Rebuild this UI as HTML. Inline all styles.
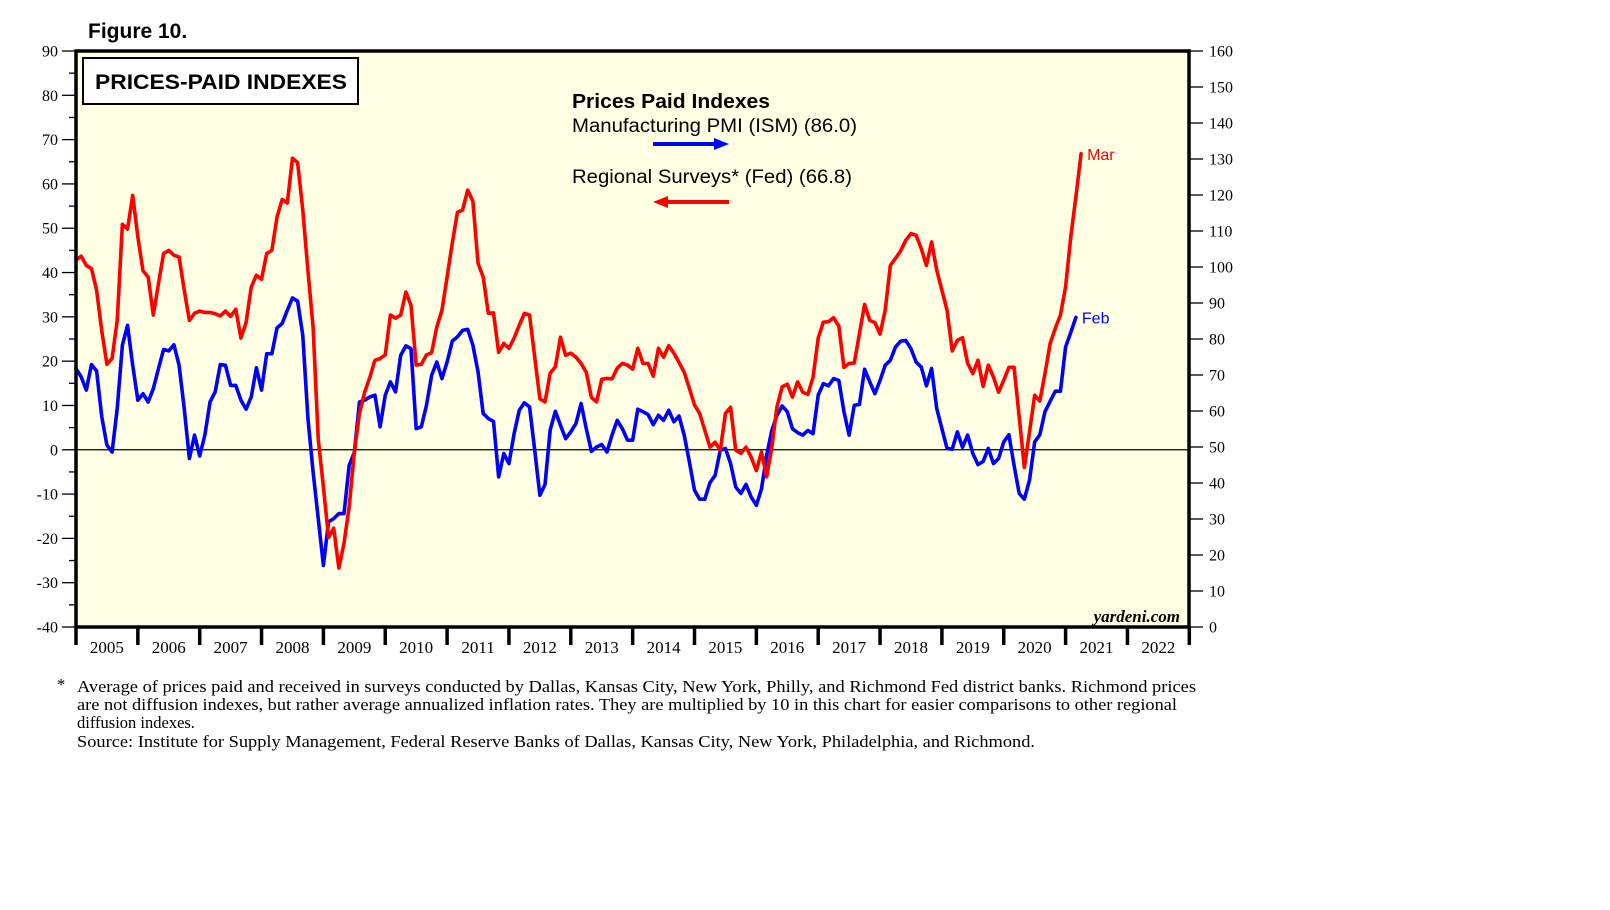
<!DOCTYPE html>
<html>
<head>
<meta charset="utf-8">
<style>
html,body{margin:0;padding:0;background:#fff;}
svg{display:block;}
</style>
</head>
<body>
<svg id="chart" width="1610" height="910" viewBox="0 0 1610 910" xmlns="http://www.w3.org/2000/svg">
  <rect x="0" y="0" width="1610" height="910" fill="#ffffff"/>
  <text x="88" y="38" font-family="Liberation Sans, sans-serif" font-weight="bold" font-size="21" fill="#000">Figure 10.</text>
  <rect x="76" y="51" width="1113" height="576" fill="#FFFFE4"/>
  <g id="axes"></g>
  <g id="series"></g>
  <rect x="76" y="51" width="1113" height="576" fill="none" stroke="#000" stroke-width="3.5"/>
  <rect x="83" y="58" width="275" height="46" fill="#fff" stroke="#000" stroke-width="2"/>
  <text x="95" y="89" font-family="Liberation Sans, sans-serif" font-weight="bold" font-size="21" textLength="252" lengthAdjust="spacingAndGlyphs" fill="#000">PRICES-PAID INDEXES</text>
  <g>
    <text x="572" y="108" font-family="Liberation Sans, sans-serif" font-weight="bold" font-size="20" textLength="198" lengthAdjust="spacingAndGlyphs" fill="#000">Prices Paid Indexes</text>
    <text x="572" y="132" font-family="Liberation Sans, sans-serif" font-size="19" textLength="285" lengthAdjust="spacingAndGlyphs" fill="#000">Manufacturing PMI (ISM) (86.0)</text>
    <line x1="653" y1="144" x2="716" y2="144" stroke="#0000FF" stroke-width="4"/>
    <polygon points="729,144 714,138 714,150" fill="#0000FF"/>
    <text x="572" y="183" font-family="Liberation Sans, sans-serif" font-size="19" textLength="280" lengthAdjust="spacingAndGlyphs" fill="#000">Regional Surveys* (Fed) (66.8)</text>
    <line x1="666" y1="202" x2="729" y2="202" stroke="#FF0000" stroke-width="4"/>
    <polygon points="653,202 668,196 668,208" fill="#FF0000"/>
  </g>
  <text x="1180" y="622" text-anchor="end" font-family="Liberation Serif, serif" font-style="italic" font-weight="bold" font-size="17" fill="#000">yardeni.com</text>
  <g font-family="Liberation Serif, serif" font-size="16.5" fill="#000">
    <text x="57" y="690">*</text>
    <text x="77" y="692" textLength="1119" lengthAdjust="spacingAndGlyphs">Average of prices paid and received in surveys conducted by Dallas, Kansas City, New York, Philly, and Richmond Fed district banks. Richmond prices</text>
    <text x="77" y="710" textLength="1100" lengthAdjust="spacingAndGlyphs">are not diffusion indexes, but rather average annualized inflation rates. They are multiplied by 10 in this chart for easier comparisons to other regional</text>
    <text x="77" y="728">diffusion indexes.</text>
    <text x="77" y="747" textLength="958" lengthAdjust="spacingAndGlyphs">Source: Institute for Supply Management, Federal Reserve Banks of Dallas, Kansas City, New York, Philadelphia, and Richmond.</text>
  </g>
</svg>
<script>
const years = [2005,2006,2007,2008,2009,2010,2011,2012,2013,2014,2015,2016,2017,2018,2019,2020,2021,2022];
const leftTicks = [90,80,70,60,50,40,30,20,10,0,-10,-20,-30,-40];
const rightTicks = [160,150,140,130,120,110,100,90,80,70,60,50,40,30,20,10,0];
const redLabel = "Mar";
const blueLabel = "Feb";
// Regional Fed surveys prices paid (left axis), monthly
const fedValues = [42.8,43.7,41.6,40.9,36.0,26.8,19.3,20.6,29.2,50.9,
49.8,57.4,48.0,40.4,39.0,30.4,37.5,44.3,45.0,43.9,
43.5,36.0,29.2,30.8,31.3,31.0,31.0,30.7,30.2,31.3,
30.1,31.7,25.2,28.7,36.7,39.4,38.5,44.3,45.0,52.5,
56.5,55.7,65.8,64.8,54.1,40.4,27.7,2.4,-8.4,-19.8,
-17.7,-26.7,-21.1,-12.9,-0.6,8.2,13,16.3,20.2,20.6,
21.4,30.4,29.7,30.4,35.6,32.6,19.1,19.3,21.4,21.9,
27.7,31.5,39,46.6,53.6,54.1,58.6,56.1,42.1,39,
30.8,30.9,22,24,22.9,25.2,28.1,30.8,30.4,20.9,
11.5,10.8,17.3,18.7,25.4,21.3,21.8,20.9,19.5,17.5,
11.8,10.8,15.9,16.1,16,18.4,19.5,19.1,18.2,22.9,
19.5,19.5,16.6,22.9,20.9,23.5,21.8,19.7,17.5,13.9,
10.1,8.2,4.4,0.6,1.7,-0.1,8.2,9.6,-0.1,-0.8,
0.6,-1.7,-4.7,
-0.5,-6.1,0.6,9.7,14.2,14.8,11.9,15.3,13,12.5,16.4,25.2,28.8,28.9,29.8,27.9,18.6,19.5,19.6,26.2,32.8,29.2,28.7,26.1,31.5,41.6,43.2,44.9,47.3,48.8,48.4,45.4,41.6,46.9,40.5,36,31.5,22.3,24.7,25.3,19.5,17.2,20.2,14.3,19.1,16.4,13,15.7,18.6,18.6,7.4,-4,4,12.3,11,17.2,24,27.4,30.4,36.8,48,57.1,66.8];
// ISM manufacturing prices paid (right axis), monthly
const ismValues = [71.8,69.5,65.8,72.9,71.1,58.4,50.5,48.6,60.7,78.3,
83.8,72.7,63,64.8,62.5,66.2,71.8,77.1,76.7,78.4,
72.7,60.7,46.8,53.3,47.5,53.3,62.5,65.3,72.9,72.7,
67.1,67.1,63,60.5,63.9,72,65.8,75.9,75.9,83.1,
84.3,88,91.4,90.5,81,57.9,43.1,30.1,17.1,29.2,
30.1,31.5,31.5,44.9,48.5,62.5,63,63.9,64.4,55.6,
64.4,68.1,65.3,75.5,78.1,77.3,55.1,55.6,61.6,69.9,
73.6,69,73.6,79.4,80.6,82.4,82.7,78.3,70.9,59.3,
57.9,57.1,41.7,48.2,45.4,53.7,60.2,62.3,61.1,49.1,
36.6,39.6,54.7,59.9,56,52.3,54.2,56.5,62.1,55.1,
48.8,50,50.7,48.6,53.3,57.4,55.1,51.9,51.9,60.5,
59.8,59,56.2,58.8,57.4,60.2,57,58.6,53.3,45.9,
38,35.5,35.5,40.1,42.1,49.1,49.6,45.4,38.9,37.1,
39.6,36.1,33.8,
38.4,47.7,54.6,58.8,61.4,59.8,55.1,54,53.3,54.6,53.7,64.4,67.6,67,69,68.5,59.8,53.3,61.6,61.8,71.6,68.1,64.8,68.5,72.7,74.1,77.8,79.4,79.6,77.3,73.6,72.2,67,71.8,60.7,55.1,49.6,49.4,54.2,49.9,53.3,48.2,45.1,46,49.6,45.4,46.8,51.4,53.4,44.9,37.1,35.5,40.8,51.4,53.4,59.8,62.7,65.5,65.5,77.8,81.8,86.0];

const NS = "http://www.w3.org/2000/svg";
const X0 = 76, YEARW = 61.85, MONTHW = YEARW / 12;
const PT = 51, PB = 627;
function xMonth(i){ return X0 + i * MONTHW; }
function yLeft(v){ return PB - (v + 40) * (PB - PT) / 130; }
function yRight(v){ return PB - v * (PB - PT) / 160; }
function mk(tag, attrs, parent){
  const el = document.createElementNS(NS, tag);
  for (const k in attrs) el.setAttribute(k, attrs[k]);
  parent.appendChild(el);
  return el;
}
const axes = document.getElementById('axes');
const series = document.getElementById('series');

const zl = mk('line', {x1: X0, x2: 1189, y1: yLeft(0), y2: yLeft(0), stroke: '#000', 'stroke-width': 1.2}, axes);



leftTicks.forEach(function(v){
  const y = yLeft(v);
  const t = mk('line', {x1: 62, x2: X0, y1: y, y2: y, stroke: '#000', 'stroke-width': 1.3}, axes);
  
  
  if (v > -40) {
    const ym = yLeft(v - 5);
    const m = mk('line', {x1: 69, x2: X0, y1: ym, y2: ym, stroke: '#000', 'stroke-width': 1.3}, axes);
    
    
  }
  const lb = mk('text', {x: 58, y: y + 5.5, 'text-anchor': 'end', 'font-family': 'Liberation Serif, serif', 'font-size': 16, fill: '#000'}, axes);
  lb.textContent = String(v);
  
  
});
rightTicks.forEach(function(v){
  const y = yRight(v);
  const t = mk('line', {x1: 1189, x2: 1203, y1: y, y2: y, stroke: '#000', 'stroke-width': 1.3}, axes);
  
  
  const lb = mk('text', {x: 1209, y: y + 5.5, 'font-family': 'Liberation Serif, serif', 'font-size': 16, fill: '#000'}, axes);
  lb.textContent = String(v);
  
  
});
for (let k = 0; k <= years.length; k++) {
  const x = X0 + k * YEARW;
  const t = mk('line', {x1: x, x2: x, y1: PB, y2: 645, stroke: '#000', 'stroke-width': 3.5}, axes);
  
  
}
years.forEach(function(yr, k){
  const lb = mk('text', {x: X0 + (k + 0.5) * YEARW, y: 653, 'text-anchor': 'middle', 'font-family': 'Liberation Serif, serif', 'font-size': 17, fill: '#000'}, axes);
  lb.textContent = String(yr);
  
  
});

function pathFor(vals, yf){
  return vals.map(function(v, i){ return (i ? 'L' : 'M') + xMonth(i).toFixed(2) + ',' + yf(v).toFixed(2); }).join(' ');
}
const ismLine = mk('path', {d: pathFor(ismValues, yRight), fill: 'none', stroke: '#0000FF', 'stroke-width': 3.6, 'stroke-linejoin': 'round', 'stroke-linecap': 'round'}, series);


const fedLine = mk('path', {d: pathFor(fedValues, yLeft), fill: 'none', stroke: '#FF0000', 'stroke-width': 3.6, 'stroke-linejoin': 'round', 'stroke-linecap': 'round'}, series);



const rl = fedValues.length - 1, bl = ismValues.length - 1;
const redT = mk('text', {x: xMonth(rl) + 6, y: yLeft(fedValues[rl]) + 6, 'font-family': 'Liberation Sans, sans-serif', 'font-size': 16, fill: '#FF0000'}, series);
redT.textContent = redLabel;


const blueT = mk('text', {x: xMonth(bl) + 6, y: yRight(ismValues[bl]) + 6, 'font-family': 'Liberation Sans, sans-serif', 'font-size': 16, fill: '#0000FF'}, series);
blueT.textContent = blueLabel;


</script>
</body>
</html>
